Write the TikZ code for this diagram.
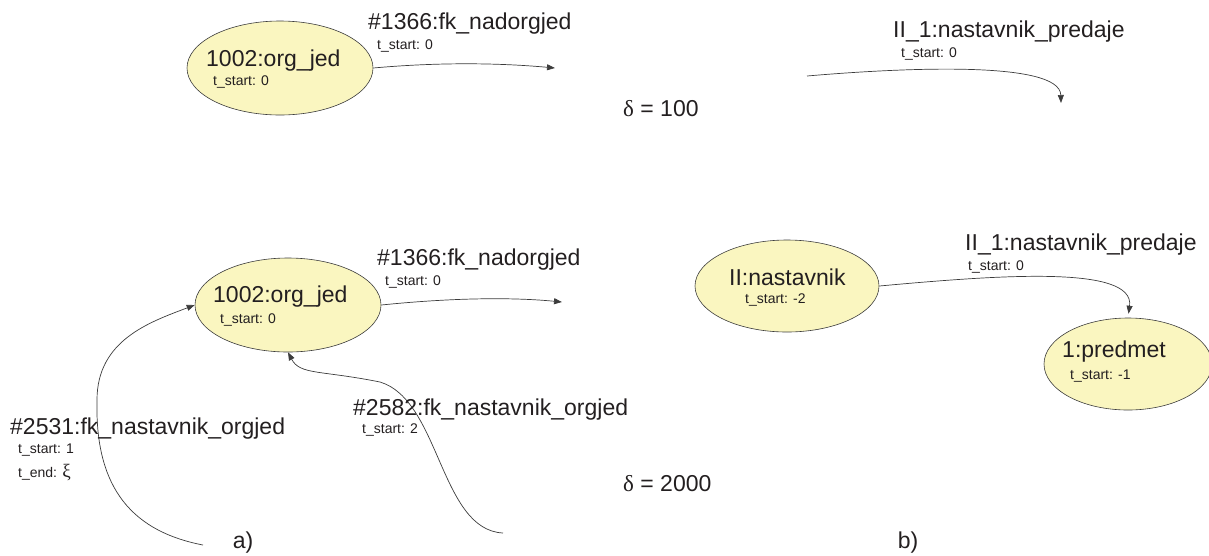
\documentclass[tikz,border=0pt]{standalone}
\usepackage{fontspec}
\setmainfont{Liberation Sans}
\newfontfamily\grk{Liberation Serif}
\usetikzlibrary{arrows.meta,shapes.geometric}
\definecolor{fillY}{RGB}{250,246,192}
\definecolor{ink}{RGB}{35,31,32}
\definecolor{edgec}{RGB}{60,60,60}
\begin{document}
\begin{tikzpicture}[x=1pt,y=-1pt,
  ent/.style={ellipse, draw=edgec, fill=fillY, line width=0.6pt, inner sep=0pt},
  big/.style={font=\fontsize{23}{26}\selectfont, text=ink, inner sep=0pt, anchor=west},
  small/.style={font=\fontsize{14}{16}\selectfont, text=ink, inner sep=0pt, anchor=west},
  rel/.style={draw=edgec, line width=0.7pt, -{Triangle[length=8pt,width=6pt]}}]
\useasboundingbox (0,0) rectangle (1209,555);

% ---- top left
\node[ent, minimum width=186pt, minimum height=94pt] (oa) at (280,68) {};
\node[big] (oat) at (206,61) {1002:org\_jed};
\node[small] (oas) at (213,82) {t\_start: 0};
\coordinate (oaend) at (555,68);
\draw[rel] (oa.east) .. controls (440,62) and (500,63) .. (oaend);
\node[big] (oal) at (368,24) {\#1366:fk\_nadorgjed};
\node[small] (oals) at (377,46) {t\_start: 0};

% ---- top right
\coordinate (rs) at (807,76);
\coordinate (re) at (1061,103);
\draw[rel] (rs) .. controls (900,68) and (1060,60) .. (re);
\node[big] (rl) at (893,32) {II\_1:nastavnik\_predaje};
\node[small] (rls) at (901,54) {t\_start: 0};

\node[big] (d1) at (623,109) {{\grk δ} = 100};

% ---- bottom left
\node[ent, minimum width=186pt, minimum height=94pt] (ob) at (288,305) {};
\node[big] (obt) at (213,297) {1002:org\_jed};
\node[small] (obs) at (220,320) {t\_start: 0};
\coordinate (obend) at (562,302);
\draw[rel] (ob.east) .. controls (450,298) and (510,297) .. (obend);
\node[big] (obl) at (377,260) {\#1366:fk\_nadorgjed};
\node[small] (obls) at (385,282) {t\_start: 0};

\coordinate (l1) at (203,545);
\draw[rel] (l1) .. controls (125,530) and (95,480) .. (97,400)
  .. controls (97,340) and (150,322) .. (ob.west);
\node[big] (l1l) at (10,429) {\#2531:fk\_nastavnik\_orgjed};
\node[small] (l1s) at (18,450) {t\_start: 1};
\node[small] (l1e) at (18,473) {t\_end: {\grk\fontsize{19}{20}\selectfont ξ}};

\coordinate (l2) at (503,533);
\draw[rel] (l2) .. controls (440,530) and (440,400) .. (380,382)
  .. controls (320,370) and (300,375) .. (ob.south);
\node[big] (l2l) at (353,410) {\#2582:fk\_nastavnik\_orgjed};
\node[small] (l2s) at (362,430) {t\_start: 2};

\node[big] (d2) at (623,484) {{\grk δ} = 2000};
\node[big, anchor=center] (ca) at (243,543) {a)};

% ---- right graph
\node[ent, minimum width=184pt, minimum height=92pt] (na) at (787,286) {};
\node[big] (nat) at (729,277) {II:nastavnik};
\node[small] (nas) at (745,300) {t\_start: -2};
\node[ent, minimum width=168pt, minimum height=92pt] (pr) at (1128,364) {};
\node[big] (prt) at (1062,352) {1:predmet};
\node[small] (prs) at (1070,376) {t\_start: -1};
\draw[rel, shorten >=4pt] (na.east) .. controls (1000,275) and (1135,265) .. (pr.north);
\node[big] (nl) at (965,245) {II\_1:nastavnik\_predaje};
\node[small] (nls) at (968,267) {t\_start: 0};

\node[big, anchor=center] (cb) at (908,543) {b)};
\end{tikzpicture}
\end{document}
